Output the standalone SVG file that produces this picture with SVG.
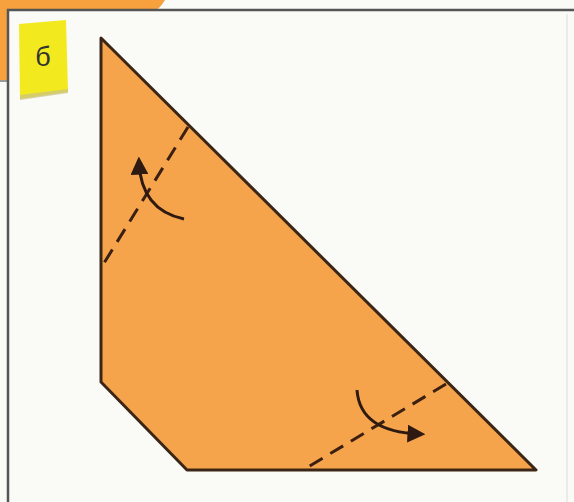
<svg xmlns="http://www.w3.org/2000/svg" width="574" height="502" viewBox="0 0 574 502">
<style>
.frame{fill:none;stroke:#555;stroke-width:2.5}
.paper{fill:#F5A44C;stroke:#3b2615;stroke-width:3;stroke-linejoin:round}
.dash{fill:none;stroke:#3b2012;stroke-width:3;stroke-dasharray:15 9}
.arc{fill:none;stroke:#2e1a10;stroke-width:3}
.lbl{font-family:"Liberation Sans",Arial,sans-serif;font-size:27px;fill:#333}
</style>
<defs>
<marker id="ah" viewBox="0 0 10 10" refX="7" refY="5" markerWidth="6" markerHeight="6" orient="auto" markerUnits="strokeWidth">
<path d="M0,0 L10,5 L0,10 z" fill="#2e1a10"/>
</marker>
</defs>
<rect x="0" y="0" width="574" height="502" fill="#FAFAF7"/>
<g id="tab">
<path d="M0,0 H165 Q160,8 156,10 H8 V81 H0 z" fill="#F6A03E"/>
<line x1="0" y1="81" x2="8" y2="81" stroke="#999" stroke-width="2"/>
</g>
<g id="frame">
<path class="frame" d="M8,502 V10 H574"/>
<line x1="567" y1="14" x2="567" y2="502" stroke="#e6e6e6" stroke-width="1.5"/>
</g>
<g id="label">
<polygon points="19,24 66,20 68,92 20,99" fill="#F2EA1E"/>
<polygon points="20,95 68,89 68,93 20,100" fill="#c9c08a" opacity="0.7"/>
<text class="lbl" x="43" y="66" text-anchor="middle">б</text>
</g>
<g id="paper">
<polygon class="paper" points="101,38 536,470 187,470 101,382"/>
</g>
<g id="connectors">
<line class="dash" x1="188" y1="127" x2="101" y2="268"/>
<line class="dash" x1="446" y1="384" x2="303" y2="470"/>
<path class="arc" d="M184,219 Q141,210 139,162" marker-end="url(#ah)"/>
<path class="arc" d="M357,390 Q360,432 420,434" marker-end="url(#ah)"/>
</g>
</svg>
